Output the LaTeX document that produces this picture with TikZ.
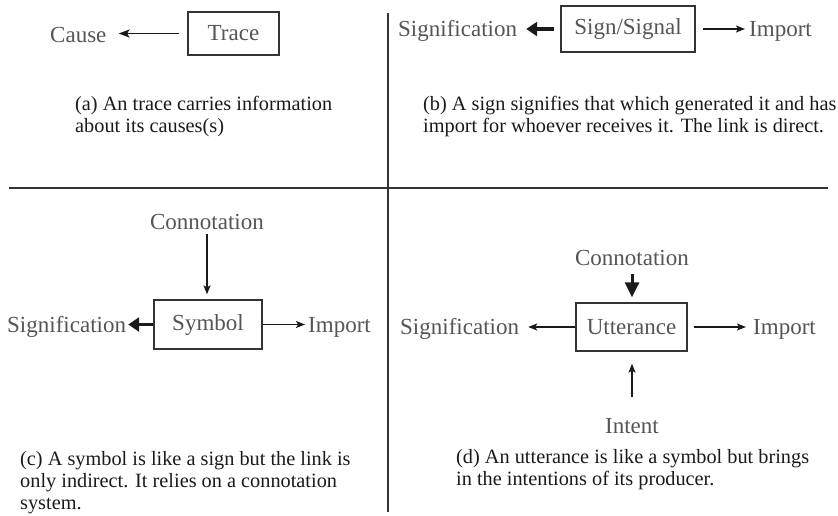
\documentclass[tikz,border=0pt]{standalone}
\usepackage{fontspec}
\setmainfont{Liberation Serif}
\usetikzlibrary{arrows.meta}
\definecolor{labelgray}{HTML}{555555}
\definecolor{inkdark}{HTML}{1A1A1A}
\definecolor{rulegray}{HTML}{333333}
\tikzset{
  x=1pt, y=-1pt,
  term/.style={font=\fontsize{23}{27}\selectfont, text=labelgray, inner sep=0pt, anchor=base west},
  conceptbox/.style={draw=rulegray, line width=1.3pt, font=\fontsize{23}{27}\selectfont,
    text=labelgray, inner sep=0pt},
  caption/.style={font=\fontsize{20.3}{22}\selectfont, text=inkdark, inner sep=0pt,
    anchor=north west, align=left},
  thinarrow/.style={draw=inkdark, line width=1.3pt,
    -{Stealth[length=9pt,width=7pt,inset=2pt]}},
  causearrow/.style={draw=inkdark, line width=1.5pt,
    -{Stealth[length=11pt,width=8pt,inset=2.5pt]}},
  boldarrow/.style={draw=inkdark, line width=3.4pt,
    -{Triangle[length=11pt,width=14pt]}},
  bigheadarrow/.style={draw=inkdark, line width=3pt,
    -{Triangle[length=15pt,width=14pt]}},
  divider/.style={draw=rulegray, line width=1.1pt},
}
\begin{document}
\begin{tikzpicture}
\useasboundingbox (0,0) rectangle (838,515);

% panel dividers
\draw[divider] (9,188) -- (828,188);
\draw[divider] (388,13) -- (388,512);

% (a) trace
\node[conceptbox, minimum width=91pt, minimum height=43pt] (trace) at (233.5,33.5) {Trace};
\node[term] (cause) at (50,42) {Cause};
\draw[causearrow, shorten <=8pt, shorten >=12pt] (trace.west) -- (trace.west -| cause.east);
\node[caption] (capa) at (75,96) {(a) An trace carries information\\about its causes(s)};

% (b) sign / signal
\node[conceptbox, minimum width=134pt, minimum height=46pt] (sign) at (628,29) {Sign/Signal};
\node[term] (bsig) at (398,36) {Signification};
\node[term] (bimp) at (749,36) {Import};
\draw[boldarrow, shorten <=6pt, shorten >=9pt] (sign.west) -- (sign.west -| bsig.east);
\draw[thinarrow, shorten <=7pt, shorten >=4pt] (sign.east) -- (sign.east -| bimp.west);
\node[caption] (capb) at (423,96) {(b) A sign signifies that which generated it and has\\import for whoever receives it. The link is direct.};

% (c) symbol
\node[conceptbox, minimum width=108pt, minimum height=49pt] (symbol) at (208,324.5) {Symbol};
\node[term, anchor=base] (cconn) at (207,229) {Connotation};
\node[term] (csig) at (7,332) {Signification};
\node[term] (cimp) at (308,332) {Import};
\draw[thinarrow, shorten <=5pt, shorten >=5pt] (cconn.south) -- (symbol.north -| cconn.south);
\draw[boldarrow, shorten >=2pt] (symbol.west) -- (symbol.west -| csig.east);
\draw[thinarrow, shorten >=3pt] (symbol.east) -- (symbol.east -| cimp.west);
\node[caption] (capc) at (20,451) {(c) A symbol is like a sign but the link is\\only indirect. It relies on a connotation\\system.};

% (d) utterance
\node[conceptbox, minimum width=111pt, minimum height=48pt] (utter) at (631.5,327) {Utterance};
\node[term, anchor=base] (dconn) at (632,265) {Connotation};
\node[term, anchor=base] (intent) at (632,433) {Intent};
\node[term] (dsig) at (400,334) {Signification};
\node[term] (dimp) at (753,334) {Import};
\draw[bigheadarrow, shorten <=9pt, shorten >=5pt] (dconn.south) -- (utter.north -| dconn.south);
\draw[thinarrow, shorten <=21pt, shorten >=12pt] (intent.north) -- (utter.south -| intent.north);
\draw[thinarrow, shorten >=9pt] (utter.west) -- (utter.west -| dsig.east);
\draw[thinarrow, shorten <=6pt, shorten >=7pt] (utter.east) -- (utter.east -| dimp.west);
\node[caption] (capd) at (456,449) {(d) An utterance is like a symbol but brings\\in the intentions of its producer.};
\end{tikzpicture}
\end{document}
